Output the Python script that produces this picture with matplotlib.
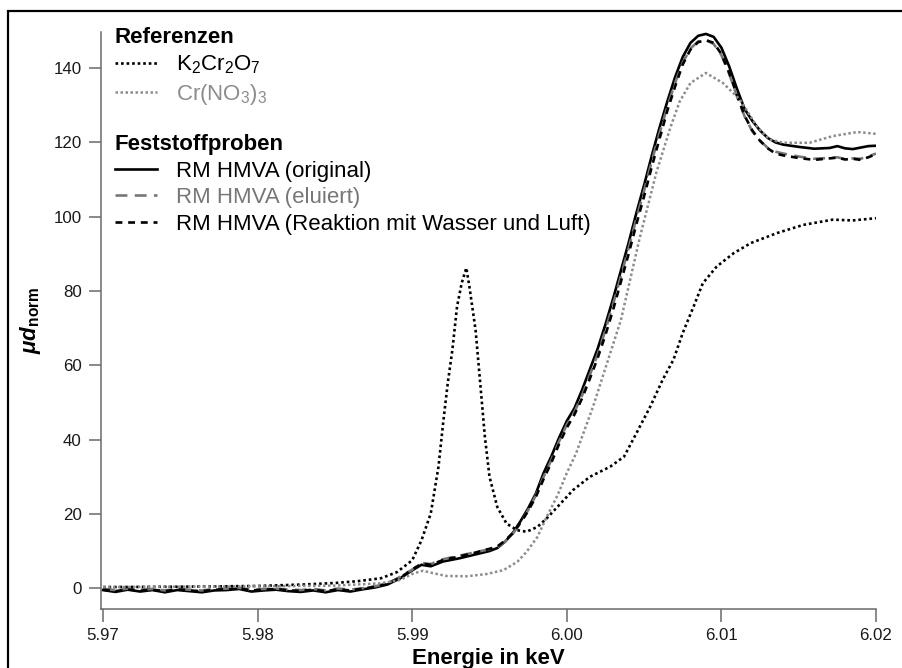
import matplotlib
matplotlib.use("Agg")
import matplotlib.pyplot as plt
from matplotlib.patches import Rectangle

plt.rcParams['font.family'] = ['Liberation Sans', 'DejaVu Sans']
plt.rcParams['mathtext.fontset'] = 'custom'
plt.rcParams['mathtext.rm'] = 'Liberation Sans'
plt.rcParams['mathtext.it'] = 'Liberation Sans:italic'
plt.rcParams['mathtext.bf'] = 'Liberation Sans:bold'

# ---------------- data ----------------
# reference compound K2Cr2O7
energy_k2cr2o7 = [5.9700, 5.9750, 5.9800, 5.9830, 5.9850, 5.9865, 5.9880, 5.9890, 5.9900,
                  5.9906, 5.9912, 5.9917, 5.9920, 5.9923, 5.9926, 5.9929, 5.9932, 5.9935,
                  5.9937, 5.9941, 5.9944, 5.9947, 5.9950, 5.9955, 5.9961, 5.9968, 5.9974,
                  5.9981, 5.9987, 5.9996, 6.0004, 6.0015, 6.0028, 6.0037, 6.0045, 6.0054,
                  6.0062, 6.0069, 6.0075, 6.0082, 6.0088, 6.0097, 6.0108, 6.0119, 6.0136,
                  6.0153, 6.0172, 6.0185, 6.0200]
mu_k2cr2o7 = [0.3, 0.4, 0.6, 1.0, 1.4, 1.9, 2.7, 4.3, 7.5,
              12.9, 20.1, 32.7, 44.4, 55.2, 64.2, 75.8, 82.1, 86.2,
              81.2, 69.5, 55.2, 40.8, 30.0, 21.9, 17.4, 15.6, 15.2,
              16.5, 18.8, 22.8, 26.4, 30.0, 32.7, 35.4, 41.7, 48.9,
              56.1, 61.5, 68.7, 75.8, 82.1, 86.6, 90.2, 92.9, 95.6,
              97.8, 99.2, 99.0, 99.6]

# reference compound Cr(NO3)3
energy_crno3 = [5.9700, 5.9750, 5.9800, 5.9850, 5.9879, 5.9892, 5.9901, 5.9907, 5.9914,
                5.9922, 5.9935, 5.9948, 5.9959, 5.9968, 5.9974, 5.9981, 5.9987, 5.9994,
                6.0000, 6.0006, 6.0017, 6.0035, 6.0047, 6.0058, 6.0067, 6.0073, 6.0080,
                6.0090, 6.0101, 6.0112, 6.0123, 6.0131, 6.0140, 6.0157, 6.0172, 6.0188,
                6.0200]
mu_crno3 = [0.3, 0.4, 0.5, 0.7, 1.3, 2.2, 4.0, 4.7, 4.0,
            3.3, 3.2, 3.8, 4.85, 7.1, 9.8, 13.8, 19.2, 25.0,
            31.0, 36.3, 48.9, 72.2, 94.0, 112.0, 124.0, 131.0, 136.0,
            138.7, 136.0, 131.5, 124.3, 120.8, 119.9, 119.9, 121.7, 122.8,
            122.3]

# solid samples RM HMVA, common energy grid
energy_samples = [5.9700, 5.9708, 5.9716, 5.9724, 5.9732, 5.9740, 5.9748, 5.9756, 5.9764,
                  5.9772, 5.9780, 5.9788, 5.9796, 5.9804, 5.9812, 5.9820, 5.9828, 5.9836,
                  5.9844, 5.9852, 5.9860, 5.9868,
                  5.9876, 5.9884, 5.9892, 5.9900,
                  5.9906, 5.9912, 5.9920, 5.9930, 5.9940, 5.9950,
                  5.9955, 5.9960, 5.9965, 5.9970, 5.9975, 5.9980, 5.9985, 5.9990, 5.9995, 6.0000,
                  6.0005, 6.0010, 6.0015, 6.0020, 6.0025, 6.0030, 6.0035, 6.0040, 6.0045, 6.0050,
                  6.0055, 6.0060, 6.0065, 6.0070, 6.0075, 6.0080, 6.0085, 6.0090, 6.0095, 6.0100,
                  6.0105, 6.0110, 6.0115, 6.0120, 6.0125, 6.0130, 6.0135, 6.0140,
                  6.0150, 6.0160, 6.0170, 6.0175, 6.0180, 6.0185, 6.0190, 6.0195, 6.0200]

mu_original = [-0.5, -1.0, -0.4, -0.9, -0.5, -1.1, -0.5, -0.8, -1.1,
               -0.6, -0.5, -0.2, -0.9, -0.6, -0.4, -0.8, -1.0, -0.6,
               -1.1, -0.5, -0.9, -0.3,
               0.2, 1.0, 2.6, 4.8,
               6.3, 5.9, 7.2, 8.0, 9.0, 10.0,
               10.8, 12.5, 14.8, 18.0, 21.5, 25.5, 31.0, 35.5, 40.5, 45.0,
               48.5, 53.5, 59.0, 64.5, 71.0, 78.0, 85.5, 93.0, 101.0, 108.5,
               116.5, 124.0, 131.0, 137.5, 143.0, 146.8, 148.7, 149.2, 148.4, 145.5,
               140.5, 134.5, 129.0, 125.8, 123.2, 121.2, 120.0, 119.4,
               118.8, 118.3, 118.5, 119.0, 118.4, 118.2, 118.6, 119.0, 119.1]

mu_eluiert = [-0.2, -0.5, -0.1, -0.4, -0.2, -0.6, -0.2, -0.4, -0.6,
              -0.2, -0.1, 0.1, -0.4, -0.2, -0.1, -0.4, -0.5, -0.2,
              -0.6, -0.1, -0.4, 0.0,
              0.5, 1.3, 3.0, 5.0,
              6.8, 6.5, 7.8, 8.7, 9.6, 10.5,
              11.0, 12.5, 14.6, 17.5, 21.0, 25.0, 30.0, 34.5, 39.5, 44.0,
              47.5, 52.0, 57.5, 63.0, 69.5, 76.5, 84.0, 91.5, 99.5, 107.0,
              115.0, 122.5, 129.5, 136.0, 141.5, 145.3, 147.2, 147.6, 146.5, 143.5,
              138.5, 132.5, 127.0, 123.0, 120.5, 118.5, 117.5, 117.0,
              116.2, 115.6, 115.8, 116.0, 115.5, 115.7, 115.6, 116.2, 117.0]

mu_reaktion = [-0.4, -0.8, -0.3, -0.7, -0.4, -0.8, -0.3, -0.6, -0.8,
               -0.4, -0.3, 0.0, -0.6, -0.4, -0.2, -0.6, -0.7, -0.4,
               -0.8, -0.3, -0.6, -0.1,
               0.4, 1.2, 2.8, 5.0,
               6.6, 6.3, 7.6, 8.5, 9.5, 10.6,
               11.2, 12.8, 14.8, 17.6, 20.8, 24.6, 29.4, 33.8, 38.8, 43.2,
               46.8, 51.2, 56.5, 62.0, 68.2, 75.0, 82.5, 90.0, 98.0, 105.5,
               113.5, 121.0, 128.5, 135.0, 141.0, 145.0, 147.0, 147.5, 146.8, 143.8,
               138.8, 132.8, 127.2, 123.2, 120.4, 118.4, 117.0, 116.5,
               115.8, 115.3, 115.7, 115.9, 115.4, 115.6, 115.3, 116.0, 116.8]

x_ticks = [5.97, 5.98, 5.99, 6.00, 6.01, 6.02]
x_tick_labels = ['5.97', '5.98', '5.99', '6.00', '6.01', '6.02']
y_ticks = [0, 20, 40, 60, 80, 100, 120, 140]

# ---------------- figure ----------------
W, H = 903, 668
fig = plt.figure(figsize=(W / 100, H / 100), dpi=100)
ax = fig.add_axes([101 / W, 1 - 609 / H, (876 - 101) / W, (609 - 31.7) / H])

l_org, = ax.plot(energy_samples, mu_original, color='black', lw=1.9,
                 label='RM HMVA (original)')
l_elu, = ax.plot(energy_samples, mu_eluiert, color='#777777', lw=1.9,
                 ls=(0, (4.5, 2.8)), label='RM HMVA (eluiert)')
l_rea, = ax.plot(energy_samples, mu_reaktion, color='black', lw=1.9,
                 ls=(0, (2.6, 2.2)), label='RM HMVA (Reaktion mit Wasser und Luft)')
l_k, = ax.plot(energy_k2cr2o7, mu_k2cr2o7, color='black', lw=1.9,
               ls=(0, (1, 1.1)), label='K$_2$Cr$_2$O$_7$')
l_c, = ax.plot(energy_crno3, mu_crno3, color='#8c8c8c', lw=1.8,
               ls=(0, (1, 1.0)), label='Cr(NO$_3$)$_3$')

ax.set_xlim(5.97 - 2 / 15460, 6.02)
ax.set_ylim(-5.6, 149.8)
ax.set_xticks(x_ticks)
ax.set_xticklabels(x_tick_labels)
ax.set_yticks(y_ticks)

for side in ('top', 'right'):
    ax.spines[side].set_visible(False)
for side in ('left', 'bottom'):
    ax.spines[side].set_color('#6a6a6a')
    ax.spines[side].set_linewidth(1.1)
ax.tick_params(direction='out', length=9, width=1.1, color='#6a6a6a',
               labelsize=12.2, labelcolor='#1a1a1a')
ax.tick_params(axis='x', pad=5)
ax.tick_params(axis='y', pad=5)

ax.set_xlabel('Energie in keV', fontsize=16, fontweight='bold', va='top')
ax.xaxis.set_label_coords(0.5, -(648 - 609) / (609 - 31.7))
ax.set_ylabel('μd$_{\\mathbf{norm}}$', fontsize=16, fontweight='bold',
              fontstyle='italic', va='center')
ax.yaxis.set_label_coords((30 - 101) / 775, 0.5)

common = dict(loc='upper left', bbox_transform=fig.transFigure, frameon=False,
              fontsize=16, title_fontproperties={'weight': 'bold', 'size': 16},
              alignment='left', handlelength=1.9, handletextpad=0.85,
              borderpad=0, borderaxespad=0, labelspacing=0.25,
              labelcolor='linecolor')
leg1 = ax.legend(handles=[l_k, l_c], title='Referenzen',
                 bbox_to_anchor=(115 / W, 1 - 27 / H), **common)
ax.add_artist(leg1)
leg2 = ax.legend(handles=[l_org, l_elu, l_rea], title='Feststoffproben',
                 bbox_to_anchor=(115 / W, 1 - 134 / H), **common)

# outer frame, open towards the right and bottom edges
fig.patches.append(Rectangle((7.5 / W, -0.2), 1.2, (1 - 10.5 / H) + 0.2,
                             transform=fig.transFigure, fill=False,
                             lw=1.6, ec='black'))

fig.savefig('out.png', dpi=100)
